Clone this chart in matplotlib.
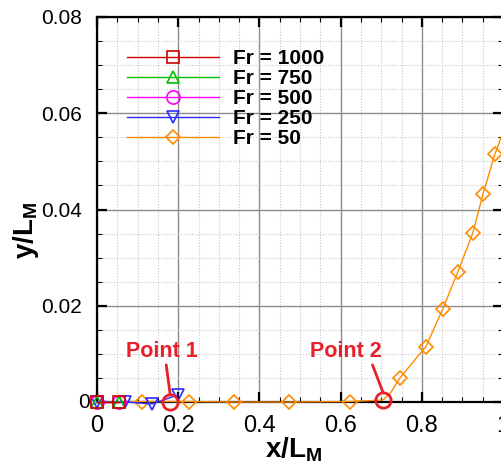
import numpy as np
import matplotlib
matplotlib.use("Agg")
import matplotlib.pyplot as plt
from matplotlib.ticker import MultipleLocator
from matplotlib.lines import Line2D

plt.rcParams['font.family'] = ['Liberation Sans', 'DejaVu Sans']
plt.rcParams['mathtext.fontset'] = 'custom'
plt.rcParams['mathtext.rm'] = 'Liberation Sans'
plt.rcParams['mathtext.bf'] = 'Liberation Sans:bold'

# --- data ---
fr1000_x = [0.0, 0.055]
fr1000_y = [0.0, 0.0]
fr750_x = [0.0, 0.055]
fr750_y = [0.0, 0.0]
fr500_x = [0.0, 0.055]
fr500_y = [0.0, 0.0]
fr250_x = [0.0, 0.07, 0.136, 0.2]
fr250_y = [0.0, 0.0, -0.0004, 0.0015]

fr50_x = [0.0, 0.11, 0.227, 0.338, 0.474, 0.622, 0.704, 0.723, 0.746,
          0.81, 0.852, 0.889, 0.926, 0.951, 0.98, 1.0]
fr50_y = [0.0, 0.0001, 0.0001, 0.0, 0.0, 0.0001, 0.0004, 0.0019, 0.005,
          0.0115, 0.0194, 0.0271, 0.0352, 0.0433, 0.0515, 0.056]
fr50_marks = [1, 2, 3, 4, 5, 8, 9, 10, 11, 12, 13, 14]

series_labels = ['Fr = 1000', 'Fr = 750', 'Fr = 500', 'Fr = 250', 'Fr = 50']
series_colors = ['#d00000', '#00c000', '#ff00ff', '#2a2aff', '#ff8c00']
series_markers = ['s', '^', 'o', 'v', 'D']
series_ms = [8, 8.5, 9.5, 8.5, 7.5]

xticks = [0, 0.2, 0.4, 0.6, 0.8, 1.0]
xtick_labels = ['0', '0.2', '0.4', '0.6', '0.8', '1']
yticks = [0, 0.02, 0.04, 0.06, 0.08]
ytick_labels = ['', '0.02', '0.04', '0.06', '0.08']

points_x = [0.18, 0.704]
points_y = [0.0, 0.0004]
points_text = ['Point 1', 'Point 2']
points_text_x = [0.16, 0.612]
points_text_y = [0.0083, 0.0083]
points_relx = [0.55, 0.85]

red = '#e8202a'

fig = plt.figure(figsize=(5.01, 4.66), dpi=100)
ax = fig.add_axes([97 / 501, 64 / 466, 406 / 501, 385 / 466])

all_x = [fr1000_x, fr750_x, fr500_x, fr250_x, fr50_x]
all_y = [fr1000_y, fr750_y, fr500_y, fr250_y, fr50_y]
handles = []
for i in range(5):
    kw = {}
    if i == 4:
        kw['markevery'] = fr50_marks
    ax.plot(all_x[i], all_y[i], color=series_colors[i], lw=1.0,
            marker=series_markers[i], ms=series_ms[i], mfc='none',
            mec=series_colors[i], mew=1.2, zorder=3 + (4 - i) * 0.1,
            clip_on=False, **kw)
    handles.append(Line2D([], [], color=series_colors[i], lw=1.0,
                          marker=series_markers[i], ms=series_ms[i], mfc='none',
                          mec=series_colors[i], mew=1.2))

for i in range(2):
    ax.plot(points_x[i], points_y[i], 'o', ms=11, mfc='none', mec=red,
            mew=2, zorder=6, clip_on=False)
    ax.annotate(points_text[i], xy=(points_x[i], points_y[i] + 0.0017),
                xytext=(points_text_x[i], points_text_y[i]),
                ha='center', va='bottom', color=red, fontsize=15.5,
                fontweight='bold', zorder=7,
                arrowprops=dict(arrowstyle='-', color=red, lw=2,
                                shrinkA=0, shrinkB=0,
                                relpos=(points_relx[i], 0.1)))

ax.set_xlim(0, 1)
ax.set_ylim(0, 0.08)
ax.xaxis.set_minor_locator(MultipleLocator(0.05))
ax.yaxis.set_minor_locator(MultipleLocator(0.005))
ax.set_xticks(xticks)
ax.set_xticklabels(xtick_labels)
ax.set_yticks(yticks)
ax.set_yticklabels(ytick_labels)
# the y "0" label sits closer to the axis in the reference
ax.annotate('0', xy=(0, 0), xytext=(-5, 0), textcoords='offset points',
            ha='right', va='center', fontsize=15, annotation_clip=False)

ax.grid(which='major', color='#8c8c8c', lw=1.0, ls='-')
ax.grid(which='minor', color='#c8c8c8', lw=0.8, ls=(0, (1, 1.5)))
ax.set_axisbelow(True)
ax.tick_params(which='both', direction='in', top=True, right=True)
ax.tick_params(which='major', length=7, width=1.6)
ax.tick_params(axis='x', which='major', labelsize=17, pad=9)
ax.tick_params(axis='y', which='major', labelsize=15, pad=11)
ax.tick_params(which='minor', length=3.5, width=0.8)
for s in ax.spines.values():
    s.set_linewidth(1.6)

ax.set_xlabel(r'$\mathbf{x/L_M}$', fontsize=20)
ax.xaxis.set_label_coords(0.485, -0.088)
ax.set_ylabel(r'$\mathbf{y/L_M}$', fontsize=20)
ax.yaxis.set_label_coords(-0.137, 0.447)

leg = ax.legend(handles, series_labels, loc='upper left',
                bbox_to_anchor=(0.074, 0.917), frameon=False,
                prop={'weight': 'bold', 'size': 15}, handlelength=4.4,
                handletextpad=0.67, labelspacing=0.05, borderpad=0,
                borderaxespad=0)

fig.savefig('out.png', dpi=100)
